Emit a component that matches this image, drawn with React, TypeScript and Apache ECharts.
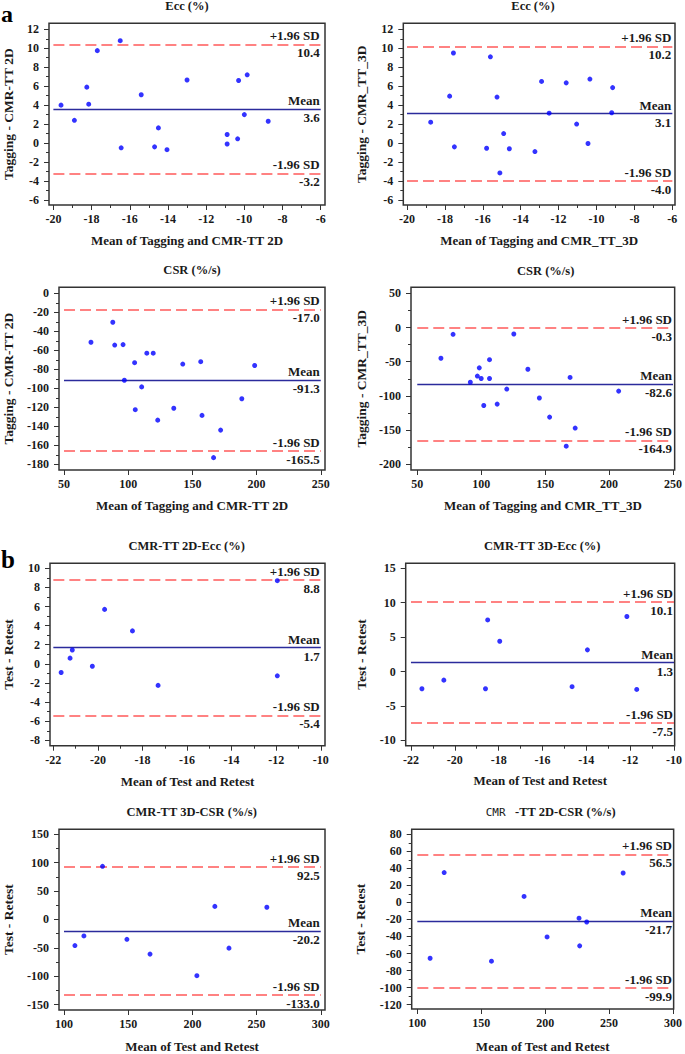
import React, { useEffect, useRef } from "react";
import * as echarts from "echarts";

const FONT = "'Liberation Serif', 'Times New Roman', serif";

// ---------- Data ----------
// a1: Ecc (%), Tagging vs CMR-TT 2D
const a1Mean = [-19.6, -18.9, -18.25, -18.15, -17.7, -16.5, -16.45, -15.4, -14.7, -14.5, -14.05, -13.0, -10.9, -10.9, -10.35, -10.3, -10.0, -9.85, -8.75];
const a1Diff = [4.0, 2.4, 5.9, 4.1, 9.75, 10.8, -0.5, 5.1, -0.4, 1.6, -0.7, 6.65, 0.9, -0.1, 0.45, 6.6, 3.0, 7.2, 2.3];
const a1Limits = [10.4, 3.6, -3.2];

// a2: Ecc (%), Tagging vs CMR_TT_3D
const a2Mean = [-18.75, -17.75, -17.55, -17.5, -15.8, -15.6, -15.25, -15.1, -14.9, -14.6, -13.25, -12.9, -12.5, -11.6, -11.05, -10.45, -10.35, -9.2, -9.15];
const a2Diff = [2.2, 4.95, 9.5, -0.4, -0.55, 9.1, 4.85, -3.15, 1.0, -0.6, -0.9, 6.5, 3.15, 6.35, 2.0, -0.05, 6.75, 3.2, 5.85];
const a2Limits = [10.2, 3.1, -4.0];

// a3: CSR (%/s), Tagging vs CMR-TT 2D
const a3Mean = [71, 88, 89.5, 96, 97, 105, 105.5, 110.5, 114.5, 119.5, 123, 135.5, 142.5, 156.5, 157.5, 172, 166.5, 188.5, 198.5];
const a3Diff = [-51.5, -30.5, -54.5, -54, -91.5, -73, -122.5, -98.5, -63, -63, -133.5, -121, -74.5, -72, -128.5, -144, -173, -111, -76];
const a3Limits = [-17.0, -91.3, -165.5];

// a4: CSR (%/s), Tagging vs CMR_TT_3D
const a4Mean = [68.5, 78, 91.5, 97, 98.5, 100, 102, 106.5, 106.5, 112.5, 120, 125.5, 136.5, 145.5, 153.5, 166.5, 169.5, 173.5, 207.5];
const a4Diff = [-45, -10, -80, -71, -59, -74.5, -114, -47, -74.5, -112, -90, -9.5, -61, -103, -131, -173.5, -73, -147, -93];
const a4Limits = [-0.3, -82.6, -164.9];

// b1: CMR-TT 2D-Ecc (%), test-retest
const b1Mean = [-21.65, -21.25, -21.15, -20.25, -19.7, -18.45, -17.3, -11.95, -11.95];
const b1Diff = [-0.9, 0.6, 1.45, -0.25, 5.7, 3.45, -2.25, 8.7, -1.25];
const b1Limits = [8.8, 1.7, -5.4];

// b2: CMR-TT 3D-Ecc (%), test-retest
const b2Mean = [-21.5, -20.5, -18.6, -18.5, -17.95, -14.65, -13.95, -12.15, -11.7];
const b2Diff = [-2.5, -1.25, -2.5, 7.5, 4.4, -2.2, 3.15, 8.0, -2.6];
const b2Limits = [10.1, 1.3, -7.5];

// b3: CMR-TT 3D-CSR (%/s), test-retest
const b3Mean = [108.5, 115.5, 130, 149, 167, 203.5, 217.5, 228.5, 258];
const b3Diff = [-46, -29, 93.5, -35, -61, -99, 23, -50.5, 21.5];
const b3Limits = [92.5, -20.2, -133.0];

// b4: CMR-TT 2D-CSR (%/s), test-retest
const b4Mean = [110, 121, 158, 183.5, 201.5, 226.5, 227, 232.5, 261];
const b4Diff = [-65.5, 35, -69, 7, -40.5, -18.5, -51, -23, 34.5];
const b4Limits = [56.5, -21.7, -99.9];

const limitNames = ["+1.96 SD", "Mean", "-1.96 SD"];

// ---------- Tick values ----------
const eccAXTicks = [-20, -18, -16, -14, -12, -10, -8, -6];
const eccAXMinor = [-19, -17, -15, -13, -11, -9, -7];
const eccAYTicks = [-6, -4, -2, 0, 2, 4, 6, 8, 10, 12];
const eccAYMinor = [-5, -3, -1, 1, 3, 5, 7, 9, 11];
const csrAXTicks = [50, 100, 150, 200, 250];
const csrA1YTicks = [-180, -160, -140, -120, -100, -80, -60, -40, -20, 0];
const csrA1YMinor = [-170, -150, -130, -110, -90, -70, -50, -30, -10];
const csrA2YTicks = [-200, -150, -100, -50, 0, 50];
const csrA2YMinor = [-175, -125, -75, -25, 25];
const eccBXTicks = [-22, -20, -18, -16, -14, -12, -10];
const eccBXMinor = [-21, -19, -17, -15, -13, -11];
const eccB1YTicks = [-8, -6, -4, -2, 0, 2, 4, 6, 8, 10];
const eccB1YMinor = [-7, -5, -3, -1, 1, 3, 5, 7, 9];
const eccB2YTicks = [-10, -5, 0, 5, 10, 15];
const csrBXTicks = [100, 150, 200, 250, 300];
const csrB1YTicks = [-150, -100, -50, 0, 50, 100, 150];
const csrB1YMinor = [-125, -75, -25, 25, 75, 125];
const csrB2YTicks = [-120, -100, -80, -60, -40, -20, 0, 20, 40, 60, 80];
const csrB2YMinor = [-110, -90, -70, -50, -30, -10, 10, 30, 50, 70];

type Panel = {
  xs: number[]; ys: number[]; lim: number[];
  grid: number[]; xr: number[]; yr: number[];
  xt: number[]; xm: number[]; yt: number[]; ym: number[];
  xName: string; yName: string; xGap: number; yGap: number;
  title: string; tx: number; ty: number; rich?: boolean;
};

const panels: Panel[] = [
  { xs: a1Mean, ys: a1Diff, lim: a1Limits, grid: [48.3, 23.3, 276.7, 181.7], xr: [-20.23, -5.775], yr: [-6.534, 12.633], xt: eccAXTicks, xm: eccAXMinor, yt: eccAYTicks, ym: eccAYMinor, xName: "Mean of Tagging and CMR-TT 2D", yName: "Tagging - CMR-TT 2D", xGap: 29, yGap: 34, title: "Ecc (%)", tx: 187, ty: 6 },
  { xs: a2Mean, ys: a2Diff, lim: a2Limits, grid: [403.3, 23.3, 271.7, 181.7], xr: [-20.195, -5.86], yr: [-6.534, 12.633], xt: eccAXTicks, xm: eccAXMinor, yt: eccAYTicks, ym: eccAYMinor, xName: "Mean of Tagging and CMR_TT_3D", yName: "Tagging - CMR_TT_3D", xGap: 29, yGap: 34.6, title: "Ecc (%)", tx: 533, ty: 6 },
  { xs: a3Mean, ys: a3Diff, lim: a3Limits, grid: [58.3, 287.3, 266.7, 182.7], xr: [46.1, 253.3], yr: [-186.0, 6.32], xt: csrAXTicks, xm: [], yt: csrA1YTicks, ym: csrA1YMinor, xName: "Mean of Tagging and CMR-TT 2D", yName: "Tagging - CMR-TT 2D", xGap: 28.5, yGap: 44, title: "CSR (%/s)", tx: 192, ty: 270 },
  { xs: a4Mean, ys: a4Diff, lim: a4Limits, grid: [411, 287.3, 264, 182.7], xr: [45.1, 251.3], yr: [-208.3, 58.77], xt: csrAXTicks, xm: [], yt: csrA2YTicks, ym: csrA2YMinor, xName: "Mean of Tagging and CMR_TT_3D", yName: "Tagging - CMR_TT_3D", xGap: 28.5, yGap: 42.3, title: "CSR (%/s)", tx: 545.7, ty: 270.7 },
  { xs: b1Mean, ys: b1Diff, lim: b1Limits, grid: [49.3, 563.3, 275.7, 182.4], xr: [-22.15, -9.81], yr: [-8.56, 10.52], xt: eccBXTicks, xm: eccBXMinor, yt: eccB1YTicks, ym: eccB1YMinor, xName: "Mean of Test and Retest", yName: "Test - Retest", xGap: 28.8, yGap: 35, title: "CMR-TT 2D-Ecc (%)", tx: 186.7, ty: 545.7 },
  { xs: b2Mean, ys: b2Diff, lim: b2Limits, grid: [405.7, 563.3, 269.3, 182.4], xr: [-22.24, -9.97], yr: [-10.78, 15.73], xt: eccBXTicks, xm: eccBXMinor, yt: eccB2YTicks, ym: [], xName: "Mean of Test and Retest", yName: "Test - Retest", xGap: 28.5, yGap: 37, title: "CMR-TT 3D-Ecc (%)", tx: 542.3, ty: 545.7 },
  { xs: b3Mean, ys: b3Diff, lim: b3Limits, grid: [58.3, 829.3, 266.7, 182.4], xr: [96.1, 303.3], yr: [-159.4, 158.7], xt: csrBXTicks, xm: [], yt: csrB1YTicks, ym: csrB1YMinor, xName: "Mean of Test and Retest", yName: "Test - Retest", xGap: 30, yGap: 44, title: "CMR-TT 3D-CSR (%/s)", tx: 191.7, ty: 811.7 },
  { xs: b4Mean, ys: b4Diff, lim: b4Limits, grid: [411.7, 829.3, 263.3, 181.4], xr: [95.6, 300.5], yr: [-125.1, 85.8], xt: csrBXTicks, xm: [], yt: csrB2YTicks, ym: csrB2YMinor, xName: "Mean of Test and Retest", yName: "Test - Retest", xGap: 31, yGap: 44, title: "-TT 2D-CSR (%/s)", tx: 550.7, ty: 812.3, rich: true },
];

const TEXT = "#1a1a1a";
const AXIS = "#333";
const RED = "#ff5a5a";
const NAVY = "#2b2b9c";

function buildOption() {
  const grid: any[] = [];
  const xAxis: any[] = [];
  const yAxis: any[] = [];
  const series: any[] = [];
  const graphic: any[] = [];
  const labelStyle = { fontFamily: FONT, fontWeight: "bold", fontSize: 12, color: TEXT };
  const nameStyle = { fontFamily: FONT, fontWeight: "bold", fontSize: 13, color: TEXT };

  panels.forEach((p, i) => {
    grid.push({
      left: p.grid[0], top: p.grid[1], width: p.grid[2], height: p.grid[3],
      show: true, borderColor: AXIS, borderWidth: 1.5, backgroundColor: "transparent",
    });
    const xi = xAxis.length;
    const yi = yAxis.length;
    xAxis.push({
      type: "value", gridIndex: i, min: p.xr[0], max: p.xr[1], position: "bottom",
      axisLine: { show: false, onZero: false }, splitLine: { show: false },
      axisTick: { show: true, length: 5, customValues: p.xt, lineStyle: { color: AXIS, width: 1 } },
      axisLabel: { show: true, customValues: p.xt, margin: 8, ...labelStyle },
      name: p.xName, nameLocation: "middle", nameGap: p.xGap, nameTextStyle: nameStyle,
    });
    xAxis.push({
      type: "value", gridIndex: i, min: p.xr[0], max: p.xr[1], position: "bottom",
      axisLine: { show: false, onZero: false }, splitLine: { show: false },
      axisLabel: { show: false },
      axisTick: p.xm.length ? { show: true, length: 3, customValues: p.xm, lineStyle: { color: AXIS, width: 1 } } : { show: false },
    });
    yAxis.push({
      type: "value", gridIndex: i, min: p.yr[0], max: p.yr[1], position: "left",
      axisLine: { show: false, onZero: false }, splitLine: { show: false },
      axisTick: { show: true, length: 5, customValues: p.yt, lineStyle: { color: AXIS, width: 1 } },
      axisLabel: { show: true, customValues: p.yt, margin: 10, ...labelStyle },
      name: p.yName, nameLocation: "middle", nameRotate: 90, nameGap: p.yGap,
      nameTextStyle: { ...nameStyle, fontSize: 13.5 },
    });
    yAxis.push({
      type: "value", gridIndex: i, min: p.yr[0], max: p.yr[1], position: "left",
      axisLine: { show: false, onZero: false }, splitLine: { show: false },
      axisLabel: { show: false },
      axisTick: p.ym.length ? { show: true, length: 3, customValues: p.ym, lineStyle: { color: AXIS, width: 1 } } : { show: false },
    });

    const x0 = p.xt[0];
    const x1 = p.xt[p.xt.length - 1];
    series.push({
      type: "scatter", xAxisIndex: xi, yAxisIndex: yi,
      data: p.xs.map((x, k) => [x, p.ys[k]]),
      symbol: "circle", symbolSize: 5,
      itemStyle: { color: "#0000ff" },
      silent: true, z: 5,
      markLine: {
        silent: true, symbol: ["none", "none"], animation: false, z: 3,
        data: p.lim.map((v, k) => [
          {
            coord: [x0, v],
            lineStyle: k === 1
              ? { color: NAVY, width: 1.4, type: "solid" }
              : { color: RED, width: 1.5, type: [11, 5] },
            label: {
              show: true, position: "insideEnd", distance: 1,
              formatter: limitNames[k] + "\n" + v.toFixed(1),
              fontFamily: FONT, fontWeight: "bold", fontSize: 13, color: TEXT, lineHeight: 17,
              align: "right",
            },
          },
          { coord: [x1, v] },
        ]),
      },
    });

    if (p.rich) {
      graphic.push({
        type: "text", x: p.tx, y: p.ty,
        style: {
          text: "{a|CMR}{b|   " + p.title + "}",
          align: "center", verticalAlign: "middle",
          rich: {
            a: { fontFamily: "'DejaVu Sans Mono', monospace", fontSize: 11, fontWeight: "normal", fill: TEXT, color: TEXT },
            b: { fontFamily: FONT, fontSize: 12.5, fontWeight: "bold", fill: TEXT, color: TEXT },
          },
        },
      });
    } else {
      graphic.push({
        type: "text", x: p.tx, y: p.ty,
        style: {
          text: p.title, fontFamily: FONT, fontSize: 12.5, fontWeight: "bold", fill: TEXT,
          align: "center", verticalAlign: "middle",
        },
      });
    }
  });

  graphic.push({
    type: "text", x: 1, y: 14,
    style: { text: "a", fontFamily: FONT, fontSize: 24, fontWeight: "bold", fill: "#000", align: "left", verticalAlign: "middle" },
  });
  graphic.push({
    type: "text", x: 1, y: 559,
    style: { text: "b", fontFamily: FONT, fontSize: 25, fontWeight: "bold", fill: "#000", align: "left", verticalAlign: "middle" },
  });

  return {
    animation: false,
    backgroundColor: "#ffffff",
    grid, xAxis, yAxis, series, graphic,
  };
}

export default function App() {
  const ref = useRef<HTMLDivElement>(null);
  useEffect(() => {
    if (!ref.current) return;
    const chart = echarts.init(ref.current, undefined, { renderer: "svg" });
    chart.setOption(buildOption() as any);
    return () => chart.dispose();
  }, []);
  return (
    <div
      ref={ref}
      style={{ position: "absolute", left: 0, top: 0, width: 685, height: 1054, background: "#fff" }}
    />
  );
}
